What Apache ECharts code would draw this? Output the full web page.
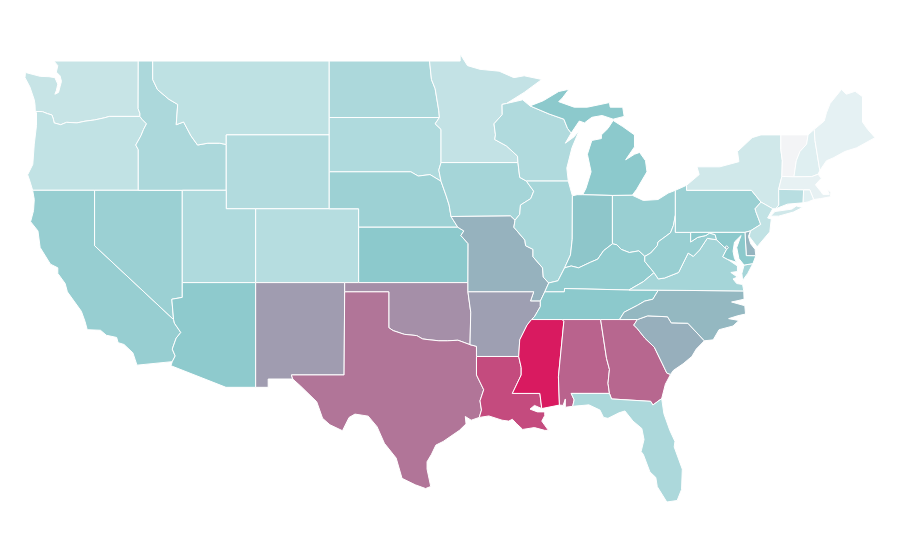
<!DOCTYPE html>
<html><head><meta charset="utf-8">
<style>html,body{margin:0;padding:0;background:#fff}#c{width:900px;height:560px}</style>
<script src="https://cdn.jsdelivr.net/npm/echarts@6/dist/echarts.min.js"></script>
</head><body><div id="c"></div>
<script>
const stateNames=["Washington","Oregon","California","Nevada","Idaho","Montana","Wyoming","Utah","Arizona","Colorado","New Mexico","North Dakota","South Dakota","Nebraska","Kansas","Oklahoma","Texas","Minnesota","Iowa","Missouri","Arkansas","Louisiana","Wisconsin","Illinois","Michigan","Indiana","Ohio","Kentucky","Tennessee","Mississippi","Alabama","Georgia","Florida","South Carolina","North Carolina","Virginia","West Virginia","Pennsylvania","New York","Vermont","New Hampshire","Maine","Massachusetts","Rhode Island","Connecticut","New Jersey","Delaware","Maryland","District of Columbia"];
const stateValues=[22,25,45,43,35,26,32,33.5,49,30,63,35,33.5,42,50,66.5,74,24,38,56.5,62,86,33,37,50,51,44,47,50,100,79,78,35,57.5,55,38,44,43,17.5,0,10,7,6,9,29,25,56,50,56];
const scaleColors=["#f3f4f6","#dfeff1","#cbe6e8","#b6dde0","#a1d3d6","#8cc9cc","#9ba6b6","#ab83a1","#ba608b","#ca3d76","#d91a60"];
const shapes={
"Washington":["-117.03,49 -122.76,49 -122.5,48.75 -122.6,48.4 -122.35,48.2 -122.25,47.9 -122.35,47.6 -122.45,47.3 -122.7,47.2 -122.6,47.4 -122.5,47.75 -122.7,48.1 -123.1,48.15 -123.7,48.17 -124.7,48.38 -124.73,48.1 -124.4,47.6 -124.1,46.9 -124.05,46.65 -124.03,46.27 -123.55,46.26 -123.2,46.15 -122.9,46.08 -122.8,45.85 -122.75,45.65 -122.3,45.55 -121.9,45.68 -121.2,45.65 -120.65,45.74 -120,45.81 -119.3,45.93 -119,46 -116.92,46 -116.92,46.17 -117.04,46.42"],
"Oregon":["-124.03,46.27 -123.55,46.26 -123.2,46.15 -122.9,46.08 -122.8,45.85 -122.75,45.65 -122.3,45.55 -121.9,45.68 -121.2,45.65 -120.65,45.74 -120,45.81 -119.3,45.93 -119,46 -116.92,46 -116.78,45.85 -116.47,45.6 -116.67,45.3 -116.85,44.95 -117.2,44.45 -117.03,44.2 -117.03,42 -120,42 -124.21,42 -124.4,42.5 -124.55,42.84 -124.2,43.4 -124.1,44.5 -123.95,45.5 -123.95,46.2"],
"California":["-124.21,42 -120,42 -120,39 -114.63,35 -114.57,34.8 -114.14,34.3 -114.45,34 -114.72,33.4 -114.52,33.03 -114.72,32.72 -117.12,32.53 -117.25,32.85 -117.4,33.2 -118,33.65 -118.4,33.75 -118.5,34.03 -119.2,34.15 -119.6,34.42 -120.5,34.45 -120.65,34.9 -120.9,35.45 -121.85,36.5 -122,36.95 -122.5,37.5 -122.5,37.8 -123,38 -123.7,38.9 -123.85,39.8 -124.35,40.3 -124.15,40.9 -124.1,41.5"],
"Nevada":["-120,42 -114.04,42 -114.04,36.2 -114.75,36.1 -114.63,35 -120,39"],
"Arizona":["-114.04,37 -109.05,37 -109.05,31.33 -111.07,31.33 -114.81,32.5 -114.72,32.72 -114.52,33.03 -114.72,33.4 -114.45,34 -114.14,34.3 -114.57,34.8 -114.63,35 -114.75,36.1 -114.04,36.2"],
"Utah":["-114.04,42 -111.05,42 -111.05,41 -109.05,41 -109.05,37 -114.04,37"],
"Idaho":["-117.03,49 -116.05,49 -116.05,48 -115.72,47.45 -114.95,46.93 -114.35,46.65 -114.45,45.55 -113.95,45.7 -113.45,44.95 -113,44.45 -112.3,44.55 -111.5,44.55 -111.05,44.48 -111.05,42 -114.04,42 -117.03,42 -117.03,44.2 -117.2,44.45 -116.85,44.95 -116.67,45.3 -116.47,45.6 -116.78,45.85 -116.92,46 -116.92,46.17 -117.04,46.42"],
"Montana":["-116.05,49 -104.05,49 -104.05,45.94 -104.05,45 -111.05,45 -111.05,44.48 -111.5,44.55 -112.3,44.55 -113,44.45 -113.45,44.95 -113.95,45.7 -114.45,45.55 -114.35,46.65 -114.95,46.93 -115.72,47.45 -116.05,48"],
"Wyoming":["-111.05,45 -104.05,45 -104.05,43 -104.05,41 -109.05,41 -111.05,41 -111.05,42 -111.05,44.48"],
"Colorado":["-109.05,41 -104.05,41 -102.05,41 -102.05,40 -102.05,37 -103,37 -109.05,37"],
"New Mexico":["-109.05,37 -103,37 -103,36.5 -103.04,32 -106.62,32 -106.53,31.78 -108.2,31.78 -108.2,31.33 -109.05,31.33"],
"North Dakota":["-104.05,49 -97.23,49 -97.1,48 -96.85,47.5 -96.6,46.3 -96.56,45.94 -104.05,45.94"],
"South Dakota":["-104.05,45.94 -96.56,45.94 -96.85,45.6 -96.45,45.3 -96.45,43.5 -96.6,43.1 -96.45,42.49 -97.2,42.85 -98,42.77 -98.5,43 -104.05,43"],
"Nebraska":["-104.05,43 -98.5,43 -98,42.77 -97.2,42.85 -96.45,42.49 -96.1,41.7 -95.9,41.2 -95.77,40.58 -95.31,40 -102.05,40 -102.05,41 -104.05,41"],
"Kansas":["-102.05,40 -95.31,40 -94.9,39.8 -95.1,39.55 -94.61,39.11 -94.62,37 -102.05,37"],
"Oklahoma":["-103,37 -102.05,37 -94.62,37 -94.62,36.5 -94.43,35.4 -94.48,33.64 -95.3,33.88 -96,33.85 -96.6,33.85 -97.2,33.9 -97.7,33.95 -98.1,34.13 -98.95,34.2 -99.7,34.4 -100,34.56 -100,36.5 -103,36.5"],
"Texas":["-103,36.5 -100,36.5 -100,34.56 -99.7,34.4 -98.95,34.2 -98.1,34.13 -97.7,33.95 -97.2,33.9 -96.6,33.85 -96,33.85 -95.3,33.88 -94.48,33.64 -94.04,33.55 -94.04,33 -94.04,32 -93.55,31.2 -93.8,30.6 -93.7,30.1 -93.85,29.7 -94.4,29.55 -94.8,29.75 -94.75,29.35 -95.2,29 -96.3,28.4 -96.8,28.2 -97.1,27.7 -97.4,27.3 -97.4,26.9 -97.15,25.96 -97.5,25.85 -98.2,26.05 -99.1,26.4 -99.5,27.5 -100.3,28.3 -100.8,29.2 -101.4,29.77 -102.3,29.88 -102.7,29.7 -103.15,28.98 -104,29.3 -104.5,29.65 -104.9,30.55 -106,31.4 -106.53,31.78 -106.62,32 -103.04,32"],
"Minnesota":["-97.23,49 -95.15,49 -95.15,49.38 -94.65,48.75 -93.8,48.55 -92.5,48.45 -91.5,48.1 -90.8,48.2 -89.6,48 -90.8,47.3 -92,46.7 -92.3,46.65 -92.29,46.1 -92.85,45.6 -92.75,45 -92.8,44.75 -92,44.4 -91.25,43.85 -91.22,43.5 -96.45,43.5 -96.45,45.3 -96.85,45.6 -96.56,45.94 -96.6,46.3 -96.85,47.5 -97.1,48"],
"Iowa":["-96.45,43.5 -91.22,43.5 -91.1,42.7 -90.65,42.5 -90.15,41.95 -90.35,41.55 -91.05,41.2 -91.1,40.7 -91.42,40.38 -91.73,40.61 -95.77,40.58 -95.9,41.2 -96.1,41.7 -96.45,42.49 -96.6,43.1"],
"Missouri":["-95.77,40.58 -91.73,40.61 -91.42,40.38 -91.5,40 -90.75,39.3 -90.7,39 -90.2,38.8 -90.2,38.4 -89.55,37.8 -89.5,37.3 -89.13,36.98 -89.4,36.5 -89.7,36 -90.37,36 -90.15,36.5 -94.62,36.5 -94.62,37 -94.61,39.11 -95.1,39.55 -94.9,39.8 -95.31,40"],
"Arkansas":["-94.62,36.5 -90.15,36.5 -90.37,36 -89.7,36 -89.7,35.7 -90.1,35.15 -90.3,35 -90.6,34.7 -91.1,33.9 -91.17,33 -94.04,33 -94.04,33.55 -94.48,33.64 -94.43,35.4"],
"Louisiana":["-94.04,33 -91.17,33 -91,32.4 -91,32 -91.6,31 -89.73,31 -89.6,30.18 -90.1,30.35 -90.4,30.15 -89.9,30 -89.4,30 -89.4,29.8 -89.6,29.5 -89.15,29 -89.4,29 -90.1,29.15 -90.9,29.05 -91.3,29.35 -91.6,29.6 -91.85,29.5 -92.3,29.55 -93.2,29.78 -93.85,29.7 -93.7,30.1 -93.8,30.6 -93.55,31.2 -94.04,32"],
"Mississippi":["-90.3,35 -88.2,35 -88.1,34.9 -88.47,31.9 -88.4,30.37 -89.6,30.18 -89.73,31 -91.6,31 -91,32 -91,32.4 -91.17,33 -91.1,33.9 -90.6,34.7"],
"Alabama":["-88.2,35 -85.6,35 -85.2,32.9 -85,32.3 -85.1,31.55 -85,31 -87.6,31 -87.4,30.65 -87.5,30.3 -88,30.25 -88,30.7 -88.15,30.35 -88.4,30.37 -88.47,31.9 -88.1,34.9"],
"Georgia":["-85.6,35 -84.32,35 -83.1,35 -83.35,34.7 -83.1,34.5 -82.6,34 -81.95,33.5 -81.4,32.6 -81.1,32.1 -80.85,32.03 -81.2,31.5 -81.45,30.72 -82.05,30.37 -82.2,30.57 -84.86,30.7 -85,31 -85.1,31.55 -85,32.3 -85.2,32.9"],
"Florida":["-87.6,31 -85,31 -84.86,30.7 -82.2,30.57 -82.05,30.37 -81.45,30.72 -81.3,29.9 -80.9,29 -80.55,28.4 -80.6,28.1 -80.05,26.9 -80.1,25.8 -80.4,25.2 -81.1,25.12 -81.75,25.95 -81.85,26.45 -82.25,26.75 -82.7,27.7 -82.85,27.85 -82.65,28.5 -82.8,29.1 -83.4,29.5 -83.95,30.05 -84.35,29.95 -85.1,29.65 -85.4,29.7 -85.65,30.1 -86.4,30.38 -87.5,30.3 -87.4,30.65"],
"South Carolina":["-83.35,34.7 -83.1,35 -82.4,35.2 -81.05,35.15 -80.8,34.82 -79.67,34.8 -78.55,33.85 -79.1,33.4 -79.4,33 -80,32.6 -80.65,32.25 -80.85,32.03 -81.1,32.1 -81.4,32.6 -81.95,33.5 -82.6,34 -83.1,34.5"],
"North Carolina":["-84.32,35 -83.1,35 -82.4,35.2 -81.05,35.15 -80.8,34.82 -79.67,34.8 -78.55,33.85 -77.95,33.9 -77.55,34.45 -76.6,34.65 -76.2,34.95 -76.9,35.05 -76.3,35.2 -75.75,35.3 -75.8,35.75 -76.7,35.95 -75.85,36.1 -75.87,36.55 -81.68,36.59 -82.05,36.1 -82.6,36 -83.1,35.77 -84,35.4"],
"Tennessee":["-90.3,35 -90.1,35.15 -89.7,35.7 -89.7,36 -89.4,36.5 -88.07,36.5 -88.05,36.68 -83.68,36.6 -81.68,36.59 -82.05,36.1 -82.6,36 -83.1,35.77 -84,35.4 -84.32,35 -85.6,35 -88.2,35"],
"Kentucky":["-89.4,36.5 -89.13,36.98 -88.5,37.1 -88.05,37.8 -87.6,37.9 -87.1,37.8 -86.3,38.1 -85.8,38.27 -85.4,38.73 -84.8,39.1 -84.5,39.05 -84.2,38.8 -83.65,38.63 -83,38.72 -82.6,38.42 -82.6,38.15 -81.97,37.54 -82.7,37.05 -83.68,36.6 -88.05,36.68 -88.07,36.5"],
"Illinois":["-90.65,42.5 -87.8,42.5 -87.52,41.7 -87.53,39.35 -87.65,38.5 -88.05,37.8 -88.5,37.1 -89.13,36.98 -89.5,37.3 -89.55,37.8 -90.2,38.4 -90.2,38.8 -90.7,39 -90.75,39.3 -91.5,40 -91.42,40.38 -91.1,40.7 -91.05,41.2 -90.35,41.55 -90.15,41.95"],
"Indiana":["-87.52,41.7 -87.2,41.76 -86.82,41.76 -84.8,41.72 -84.8,39.1 -85.4,38.73 -85.8,38.27 -86.3,38.1 -87.1,37.8 -87.6,37.9 -88.05,37.8 -87.65,38.5 -87.53,39.35"],
"Ohio":["-84.8,41.72 -83.45,41.73 -82.7,41.45 -81.7,41.5 -81,41.85 -80.52,42 -80.52,40.64 -80.65,40.1 -80.85,39.7 -81.7,39.2 -81.75,39 -82.2,38.6 -82.6,38.42 -83,38.72 -83.65,38.63 -84.2,38.8 -84.5,39.05 -84.8,39.1"],
"West Virginia":["-80.52,40.64 -80.52,39.72 -79.48,39.72 -79.48,39.2 -79,39.45 -78.45,39.55 -78.2,39.68 -77.82,39.6 -77.72,39.32 -78.35,39.4 -78.87,38.77 -79.3,38.42 -79.65,38.6 -80.3,37.55 -81.25,37.25 -81.68,37.2 -81.97,37.54 -82.6,38.15 -82.6,38.42 -82.2,38.6 -81.75,39 -81.7,39.2 -80.85,39.7 -80.65,40.1"],
"Virginia":["-83.68,36.6 -81.68,36.59 -75.87,36.55 -75.95,36.9 -76.35,36.95 -76.6,37.2 -76.3,37.3 -76.75,37.55 -76.3,37.6 -76.3,37.9 -76.95,38.25 -77.3,38.4 -77.04,38.8 -77.72,39.32 -78.35,39.4 -78.87,38.77 -79.3,38.42 -79.65,38.6 -80.3,37.55 -81.25,37.25 -81.68,37.2 -81.97,37.54 -82.7,37.05","-75.85,37.95 -75.25,38.03 -75.6,37.5 -75.95,37.12 -76,37.5"],
"Maryland":["-79.48,39.72 -75.79,39.72 -75.7,38.46 -75.05,38.45 -75.25,38.03 -75.85,37.95 -76.2,38.3 -76.35,38.9 -76.15,39.35 -76.05,39.55 -76.5,39.2 -76.6,38.7 -76.5,38.3 -76.35,38.1 -76.95,38.25 -77.3,38.4 -77.04,38.8 -77.72,39.32 -77.82,39.6 -78.2,39.68 -78.45,39.55 -79,39.45 -79.48,39.2"],
"District of Columbia":["-77.12,38.93 -77.04,39 -76.91,38.89 -77.04,38.79"],
"Delaware":["-75.79,39.72 -75.42,39.8 -75.55,39.5 -75.4,39.1 -75.1,38.8 -75.05,38.45 -75.7,38.46"],
"Pennsylvania":["-80.52,42 -79.76,42.27 -79.76,42 -75.35,42 -74.7,41.36 -75.1,41 -75.05,40.85 -74.72,40.15 -75.42,39.8 -75.79,39.72 -79.48,39.72 -80.52,39.72"],
"New Jersey":["-74.7,41.36 -73.9,41 -74.25,40.5 -74,40.45 -74.1,39.75 -74.9,39 -74.95,38.93 -75.5,39.5 -75.42,39.8 -74.72,40.15 -75.05,40.85 -75.1,41"],
"New York":["-79.76,42 -79.76,42.27 -78.9,42.85 -79.05,43.27 -77.5,43.27 -76.2,43.55 -76.3,44.1 -75.3,44.85 -74.7,45 -73.35,45 -73.35,44.2 -73.25,43.6 -73.28,42.75 -73.5,42.05 -73.49,41.2 -73.7,41 -73.9,41 -74.7,41.36 -75.35,42","-74.05,40.6 -73.75,40.85 -72.6,40.98 -72.3,41.15 -71.87,41.07 -72.5,40.82 -73.5,40.6"],
"Vermont":["-73.35,45 -71.5,45 -71.6,44.5 -72.05,44.1 -72.3,43.6 -72.46,42.73 -73.28,42.75 -73.25,43.6 -73.35,44.2"],
"New Hampshire":["-71.5,45 -71.08,45.3 -71.03,44.7 -70.7,43.07 -70.82,42.87 -71.25,42.74 -72.46,42.73 -72.3,43.6 -72.05,44.1 -71.6,44.5"],
"Maine":["-71.08,45.3 -70.4,45.75 -70.25,46.2 -70,46.7 -69.23,47.46 -68.9,47.2 -68.3,47.36 -67.8,47.07 -67.8,45.7 -67.45,45.3 -66.95,44.85 -68.2,44.3 -69,44.1 -69.8,43.75 -70.25,43.6 -70.7,43.07 -71.03,44.7"],
"Massachusetts":["-73.5,42.05 -73.28,42.75 -72.46,42.73 -71.25,42.74 -70.82,42.87 -70.6,42.65 -71,42.3 -70.65,41.95 -70.5,41.78 -70.05,41.78 -70.22,42.07 -69.95,41.9 -69.98,41.65 -70.65,41.55 -71.12,41.5 -71.38,42.02 -71.8,42.02"],
"Rhode Island":["-71.8,42.02 -71.38,42.02 -71.12,41.5 -71.5,41.37 -71.85,41.32"],
"Connecticut":["-73.5,42.05 -71.8,42.02 -71.85,41.32 -72.9,41.25 -73.7,41 -73.49,41.2"],
"Michigan":["-90.4,46.57 -89.5,46.85 -88.45,47.35 -87.75,47.47 -88.2,47 -88.45,46.8 -87.4,46.5 -86.5,46.5 -85,46.75 -84.95,46.5 -84.1,46.5 -84,46 -84.75,45.85 -85.5,46.05 -86.2,45.95 -86.7,45.65 -87.05,45.75 -87.6,45.1 -87.85,45.35 -88.1,45.85 -89.1,46.13","-86.82,41.76 -84.8,41.72 -83.45,41.73 -83.15,42.05 -82.45,43 -82.55,43.6 -82.95,44.05 -83.3,43.95 -83.9,43.65 -83.3,44.35 -83.3,45 -84.1,45.45 -84.75,45.78 -85.1,45.35 -85.55,45 -85.55,44.8 -86.2,44.7 -86.5,43.95 -86.25,43 -86.6,42.1"],
"Wisconsin":["-92.3,46.65 -92,46.7 -90.9,46.9 -90.4,46.57 -89.1,46.13 -88.1,45.85 -87.85,45.35 -87.6,45.1 -88,44.55 -87.4,44.9 -87.05,45.25 -87.55,44.3 -87.9,43.2 -87.8,42.5 -90.65,42.5 -91.1,42.7 -91.22,43.5 -91.25,43.85 -92,44.4 -92.8,44.75 -92.75,45 -92.85,45.6 -92.29,46.1"]
};
const ring=s=>{const r=s.split(" ").map(p=>p.split(",").map(Number));r.push(r[0]);return r;};
const usa={type:"FeatureCollection",features:stateNames.map(n=>({type:"Feature",properties:{name:n},geometry:{type:"MultiPolygon",coordinates:shapes[n].map(s=>[ring(s)])}}))};
echarts.registerMap("USA",usa);
const chart=echarts.init(document.getElementById("c"),null,{renderer:"canvas"});
chart.setOption({
  animation:false,
  backgroundColor:"#fff",
  tooltip:{show:false},
  visualMap:{show:false,min:0,max:100,inRange:{color:scaleColors}},
  series:[{type:"map",map:"USA",roam:false,silent:true,aspectScale:0.798,left:25,top:54,width:850,height:448,
    label:{show:false},
    itemStyle:{borderColor:"#fff",borderWidth:1},
    data:stateNames.map((n,i)=>({name:n,value:stateValues[i]}))}]
});
</script></body></html>
